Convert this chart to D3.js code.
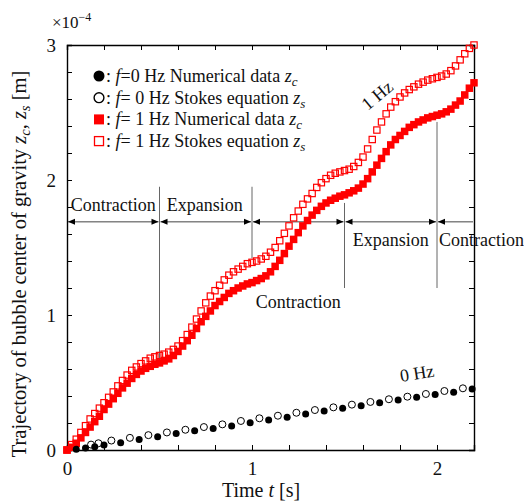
<!DOCTYPE html>
<html>
<head>
<meta charset="utf-8">
<script src="https://cdn.jsdelivr.net/npm/d3@7"></script>
<style>
  body { margin: 0; background: #fff; }
  svg { font-family: "Liberation Serif", "Times New Roman", serif; }
</style>
</head>
<body>
<div id="main-vis"></div>
<script>
// values in units of 1e-4 m

// 1 Hz, sampled every 0.025 s
const t1 = [
  0, 0.025, 0.05, 0.075, 0.1, 0.125, 0.15, 0.175,
  0.2, 0.225, 0.25, 0.275, 0.3, 0.325, 0.35, 0.375,
  0.4, 0.425, 0.45, 0.475, 0.5, 0.525, 0.55, 0.575,
  0.6, 0.625, 0.65, 0.675, 0.7, 0.725, 0.75, 0.775,
  0.8, 0.825, 0.85, 0.875, 0.9, 0.925, 0.95, 0.975,
  1.0, 1.025, 1.05, 1.075, 1.1, 1.125, 1.15, 1.175,
  1.2, 1.225, 1.25, 1.275, 1.3, 1.325, 1.35, 1.375,
  1.4, 1.425, 1.45, 1.475, 1.5, 1.525, 1.55, 1.575,
  1.6, 1.625, 1.65, 1.675, 1.7, 1.725, 1.75, 1.775,
  1.8, 1.825, 1.85, 1.875, 1.9, 1.925, 1.95, 1.975,
  2.0, 2.025, 2.05, 2.075, 2.1, 2.125, 2.15, 2.175,
  2.2
]
const zc1 = [
  0.00, 0.02, 0.05, 0.09, 0.13, 0.17, 0.21, 0.25,
  0.30, 0.34, 0.38, 0.42, 0.46, 0.495, 0.53, 0.56,
  0.585, 0.605, 0.62, 0.635, 0.645, 0.66, 0.675, 0.70,
  0.73, 0.77, 0.81, 0.85, 0.90, 0.95, 0.99, 1.03,
  1.07, 1.10, 1.13, 1.16, 1.18, 1.20, 1.215, 1.23,
  1.24, 1.255, 1.27, 1.29, 1.32, 1.36, 1.405, 1.455,
  1.51, 1.56, 1.61, 1.66, 1.70, 1.74, 1.775, 1.805,
  1.83, 1.85, 1.865, 1.88, 1.89, 1.905, 1.92, 1.94,
  1.97, 2.01, 2.06, 2.11, 2.16, 2.21, 2.26, 2.30,
  2.33, 2.36, 2.39, 2.41, 2.43, 2.445, 2.46, 2.47,
  2.48, 2.49, 2.505, 2.525, 2.555, 2.585, 2.63, 2.68,
  2.72
]
const zs1 = [
  0.00, 0.04, 0.08, 0.13, 0.18, 0.23, 0.27, 0.31,
  0.35, 0.39, 0.43, 0.475, 0.515, 0.555, 0.59, 0.615,
  0.64, 0.66, 0.68, 0.69, 0.70, 0.71, 0.725, 0.745,
  0.77, 0.81, 0.855, 0.91, 0.97, 1.03, 1.09, 1.14,
  1.18, 1.22, 1.26, 1.295, 1.32, 1.34, 1.36, 1.38,
  1.39, 1.40, 1.415, 1.435, 1.465, 1.50, 1.55, 1.605,
  1.66, 1.72, 1.77, 1.82, 1.86, 1.90, 1.945, 1.98,
  2.01, 2.035, 2.05, 2.06, 2.07, 2.08, 2.10, 2.13,
  2.17, 2.23, 2.30, 2.37, 2.43, 2.49, 2.54, 2.58,
  2.615, 2.645, 2.67, 2.69, 2.71, 2.725, 2.74, 2.75,
  2.76, 2.77, 2.785, 2.81, 2.845, 2.89, 2.935, 2.975,
  3.00
]

// 0 Hz
const tc0 = [0.05, 0.10, 0.15, 0.20, 0.29, 0.39, 0.49, 0.59, 0.69, 0.79, 0.89, 0.99,
  1.09, 1.19, 1.29, 1.39, 1.49, 1.59, 1.69, 1.79, 1.89, 1.99, 2.09, 2.19]
const zc0 = [0.005, 0.015, 0.024, 0.037, 0.054, 0.077, 0.099, 0.123, 0.143, 0.16, 0.178, 0.202,
  0.222, 0.242, 0.267, 0.289, 0.309, 0.328, 0.35, 0.37, 0.39, 0.412, 0.427, 0.452]
const ts0 = [0.13, 0.17, 0.24, 0.34, 0.44, 0.54, 0.64, 0.74, 0.84, 0.94, 1.04,
  1.14, 1.24, 1.34, 1.44, 1.54, 1.64, 1.74, 1.84, 1.94, 2.04, 2.14]
const zs0 = [0.04, 0.05, 0.07, 0.09, 0.11, 0.13, 0.15, 0.17, 0.19, 0.215, 0.235,
  0.254, 0.276, 0.296, 0.316, 0.336, 0.356, 0.376, 0.395, 0.415, 0.437, 0.457]

// phases
const phaseBounds = [0, 0.5, 1.0, 1.5, 2.0, 2.2]
const phaseNames = ['Contraction', 'Expansion', 'Contraction', 'Expansion', 'Contraction']
const dividers = [
  {t: 0.5, top: 1.95, bottom: 0.652},
  {t: 1.0, top: 1.95, bottom: 1.42},
  {t: 1.5, top: 1.83, bottom: 1.20},
  {t: 2.0, top: 2.43, bottom: 1.20}
]

const xTicks = d3.range(0, 2.21, 0.2)
const yTicks = d3.range(0, 3.01, 0.2)
const xLabels = [0, 1, 2]
const yLabels = [0, 1, 2, 3]

const legendRows = [
  {mark: 'circle', filled: true, f: '=0 Hz Numerical data ', sub: 'c'},
  {mark: 'circle', filled: false, f: '= 0 Hz Stokes equation ', sub: 's'},
  {mark: 'square', filled: true, f: '= 1 Hz Numerical data ', sub: 'c'},
  {mark: 'square', filled: false, f: '= 1 Hz Stokes equation ', sub: 's'}
]

const W = 524, H = 503
const m = {left: 67, top: 45, right: 50, bottom: 53}
const red = '#ff0000'

const x = d3.scaleLinear().domain([0, 2.2]).range([m.left, W - m.right])
const y = d3.scaleLinear().domain([0, 3]).range([H - m.bottom, m.top])

const svg = d3.create('svg').attr('width', W).attr('height', H)

const near = (a, b) => Math.abs(a - b) < 1e-6

// axes with inward ticks
svg.append('g')
  .attr('transform', `translate(0,${y(0)})`)
  .call(d3.axisBottom(x).tickValues(xTicks).tickSize(-5).tickPadding(12)
    .tickFormat(d => xLabels.some(v => near(v, d)) ? d3.format('d')(d) : ''))
svg.append('g')
  .attr('transform', `translate(0,${y(3)})`)
  .call(d3.axisTop(x).tickValues(xTicks).tickSize(-5).tickFormat(''))
svg.append('g')
  .attr('transform', `translate(${x(0)},0)`)
  .call(d3.axisLeft(y).tickValues(yTicks).tickSize(-5).tickPadding(11)
    .tickFormat(d => yLabels.some(v => near(v, d)) ? d3.format('d')(d) : ''))
svg.append('g')
  .attr('transform', `translate(${x(2.2)},0)`)
  .call(d3.axisRight(y).tickValues(yTicks).tickSize(-5).tickFormat(''))

svg.selectAll('.domain').attr('stroke', '#000').attr('stroke-width', 1.4)
svg.selectAll('.tick line').attr('stroke', '#000').attr('stroke-width', 1)
svg.selectAll('.tick text').attr('font-size', 19).attr('font-family', '"Liberation Serif", serif').attr('fill', '#111')

// exponent
const ex = svg.append('text').attr('x', 52).attr('y', 28).attr('font-size', 17).attr('fill', '#111')
ex.append('tspan').text('×10')
ex.append('tspan').attr('dy', -7).attr('font-size', 12).text('−4')

// axis titles
const xt = svg.append('text').attr('x', 261).attr('y', 497).attr('text-anchor', 'middle')
  .attr('font-size', 20).attr('fill', '#111')
xt.append('tspan').text('Time ')
xt.append('tspan').attr('font-style', 'italic').text('t')
xt.append('tspan').text(' [s]')

const yt = svg.append('text').attr('transform', 'translate(26,264) rotate(-90)')
  .attr('text-anchor', 'middle').attr('font-size', 20.5).attr('fill', '#111')
yt.append('tspan').text('Trajectory of bubble center of gravity ')
yt.append('tspan').attr('font-style', 'italic').text('z')
yt.append('tspan').attr('font-style', 'italic').attr('font-size', 14.5).attr('dy', 4).text('c')
yt.append('tspan').attr('dy', -4).text(', ')
yt.append('tspan').attr('font-style', 'italic').text('z')
yt.append('tspan').attr('font-style', 'italic').attr('font-size', 14.5).attr('dy', 4).text('s')
yt.append('tspan').attr('dy', -4).text(' [m]')

// phase dividers and arrows
const ann = svg.append('g')
ann.selectAll('line.div')
  .data(dividers)
  .join('line')
    .attr('x1', d => x(d.t)).attr('x2', d => x(d.t))
    .attr('y1', d => y(d.top)).attr('y2', d => y(d.bottom))
    .attr('stroke', '#666').attr('stroke-width', 1)

const arrowZ = 1.69
const segs = d3.pairs(phaseBounds)
ann.selectAll('line.arr')
  .data(segs)
  .join('line')
    .attr('x1', d => x(d[0]) + 1).attr('x2', d => x(d[1]) - 1)
    .attr('y1', y(arrowZ)).attr('y2', y(arrowZ))
    .attr('stroke', '#444').attr('stroke-width', 1)

const heads = []
segs.forEach((s, i) => {
  heads.push({px: x(s[0]) + 1, dir: -1})
  if (i < segs.length - 1) heads.push({px: x(s[1]) - 1, dir: 1})
})
ann.selectAll('path.head')
  .data(heads)
  .join('path')
    .attr('d', d => `M${d.px},${y(arrowZ)} l${-d.dir * 7},-3 l0,6 Z`)
    .attr('fill', '#000')

const phaseLabelPos = [
  {t: 0.25, z: 1.82}, {t: 0.745, z: 1.82}, {t: 1.25, z: 1.10},
  {t: 1.75, z: 1.556}, {t: 2.24, z: 1.556}
]
ann.selectAll('text')
  .data(phaseNames)
  .join('text')
    .attr('x', (d, i) => x(phaseLabelPos[i].t))
    .attr('y', (d, i) => y(phaseLabelPos[i].z))
    .attr('dy', '0.35em')
    .attr('text-anchor', 'middle')
    .attr('font-size', 18)
    .attr('fill', '#111')
    .text(d => d)

// data
const sq = 7.5
svg.append('g').selectAll('rect')
  .data(d3.zip(t1, zc1))
  .join('rect')
    .attr('x', d => x(d[0]) - sq / 2).attr('y', d => y(d[1]) - sq / 2)
    .attr('width', sq).attr('height', sq)
    .attr('fill', red)
svg.append('g').selectAll('rect')
  .data(d3.zip(t1, zs1))
  .join('rect')
    .attr('x', d => x(d[0]) - sq / 2 + 0.6).attr('y', d => y(d[1]) - sq / 2 + 0.6)
    .attr('width', sq - 1.2).attr('height', sq - 1.2)
    .attr('fill', 'none').attr('stroke', red).attr('stroke-width', 1.2)

svg.append('g').selectAll('circle')
  .data(d3.zip(ts0, zs0))
  .join('circle')
    .attr('cx', d => x(d[0])).attr('cy', d => y(d[1])).attr('r', 3.5)
    .attr('fill', '#fff').attr('stroke', '#000').attr('stroke-width', 1)
svg.append('g').selectAll('circle')
  .data(d3.zip(tc0, zc0))
  .join('circle')
    .attr('cx', d => x(d[0])).attr('cy', d => y(d[1])).attr('r', 3.5)
    .attr('fill', '#000')

// curve labels
svg.append('text').attr('transform', 'translate(377,95) rotate(-40)')
  .attr('text-anchor', 'middle').attr('dy', '0.35em').attr('font-size', 18).attr('fill', '#111').text('1 Hz')
svg.append('text').attr('transform', 'translate(417,373) rotate(-9)')
  .attr('text-anchor', 'middle').attr('dy', '0.35em').attr('font-size', 18).attr('fill', '#111').text('0 Hz')

// legend
const lg = svg.append('g').selectAll('g')
  .data(legendRows)
  .join('g')
    .attr('transform', (d, i) => `translate(99,${76 + i * 21.7})`)
lg.each(function (d) {
  const g = d3.select(this)
  if (d.mark === 'circle') {
    g.append('circle').attr('r', d.filled ? 5.5 : 4.9)
      .attr('fill', d.filled ? '#000' : '#fff')
      .attr('stroke', '#000').attr('stroke-width', d.filled ? 0 : 1.4)
  } else {
    const s = d.filled ? 10 : 9
    g.append('rect').attr('x', -s / 2).attr('y', -s / 2).attr('width', s).attr('height', s)
      .attr('fill', d.filled ? red : '#fff')
      .attr('stroke', d.filled ? 'none' : red).attr('stroke-width', 1.3)
  }
  const tx = g.append('text').attr('x', 7).attr('dy', '0.33em').attr('font-size', 18).attr('fill', '#111')
  tx.append('tspan').text(': ')
  tx.append('tspan').attr('font-style', 'italic').text('f')
  tx.append('tspan').text(d.f)
  tx.append('tspan').attr('font-style', 'italic').text('z')
  tx.append('tspan').attr('font-style', 'italic').attr('font-size', 13).attr('dy', 4).text(d.sub)
})

document.getElementById('main-vis').appendChild(svg.node())
</script>
</body>
</html>
